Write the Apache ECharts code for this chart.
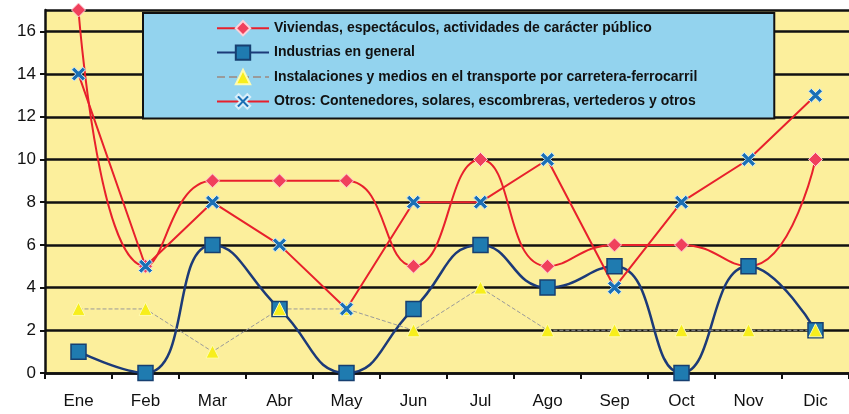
<!DOCTYPE html>
<html lang="es">
<head>
    <meta charset="UTF-8">
    <title>Incendios por mes</title>
    <script type="text/javascript" src="https://cdn.jsdelivr.net/npm/echarts@6/dist/echarts.min.js"></script>
    <style>
        html, body { margin: 0; padding: 0; background: #fff; }
    </style>
</head>
<body>
<div id="main" style="width: 849px;height:414px;"></div>
<script type="text/javascript">
    // datos
    var meses = ['Ene', 'Feb', 'Mar', 'Abr', 'May', 'Jun', 'Jul', 'Ago', 'Sep', 'Oct', 'Nov', 'Dic'];
    var viviendas = [17, 5, 9, 9, 9, 5, 10, 5, 6, 6, 5, 10];
    var industrias = [1, 0, 6, 3, 0, 3, 6, 4, 5, 0, 5, 2];
    var instalaciones = [3, 3, 1, 3, 3, 2, 4, 2, 2, 2, 2, 2];
    var otros = [14, 5, 8, 6, 3, 8, 8, 10, 4, 8, 10, 13];
    var nombres = [
        'Viviendas, espectáculos, actividades de carácter público',
        'Industrias en general',
        'Instalaciones y medios en el transporte por carretera-ferrocarril',
        'Otros: Contenedores, solares, escombreras, vertederos y otros'
    ];

    var fuente = 'Liberation Sans, Arial, sans-serif';
    var cruz = 'path://M2,0 L5,3 L8,0 L10,2 L7,5 L10,8 L8,10 L5,7 L2,10 L0,8 L3,5 L0,2 Z';

    var myChart = echarts.init(document.getElementById('main'));
    myChart.setOption({
        animation: false,
        backgroundColor: '#ffffff',
        grid: {
            left: 45,
            right: 0,
            top: 10,
            bottom: 41,
            show: true,
            backgroundColor: '#fcef9c',
            borderWidth: 0
        },
        legend: {
            orient: 'vertical',
            left: 143,
            top: 13,
            padding: [7, 77, 9, 73],
            itemGap: 8,
            itemWidth: 52,
            itemHeight: 18,
            backgroundColor: '#93d3ee',
            borderColor: '#111111',
            borderWidth: 2,
            textStyle: {
                fontFamily: fuente,
                fontSize: 14,
                fontWeight: 'bold',
                color: '#111111'
            },
            data: nombres
        },
        xAxis: {
            type: 'category',
            data: meses,
            boundaryGap: true,
            axisLine: { lineStyle: { color: '#111111', width: 2.5 } },
            axisTick: { show: true, length: 6, lineStyle: { color: '#111111', width: 2 } },
            axisLabel: {
                fontFamily: fuente,
                fontSize: 17,
                color: '#111111',
                margin: 20
            }
        },
        yAxis: {
            type: 'value',
            min: 0,
            max: 17,
            interval: 2,
            axisLine: { show: true, lineStyle: { color: '#111111', width: 2.5 } },
            axisTick: { show: true, length: 5, lineStyle: { color: '#111111', width: 2 } },
            axisLabel: {
                fontFamily: fuente,
                fontSize: 17,
                color: '#111111',
                margin: 9,
                showMaxLabel: false
            },
            splitLine: { lineStyle: { color: '#111111', width: 2.5 } }
        },
        series: [
            {
                name: nombres[0],
                type: 'line',
                data: viviendas,
                smooth: 0.5,
                symbol: 'diamond',
                symbolSize: 14,
                lineStyle: { color: '#e8202c', width: 2 },
                itemStyle: { color: '#f0405c', borderColor: '#ffd0d8', borderWidth: 1 }
            },
            {
                name: nombres[1],
                type: 'line',
                data: industrias,
                smooth: 0.5,
                symbol: 'rect',
                symbolSize: 15,
                lineStyle: { color: '#1c3a78', width: 2.5 },
                itemStyle: { color: '#1f7bb0', borderColor: '#163f70', borderWidth: 1.5 }
            },
            {
                name: nombres[2],
                type: 'line',
                data: instalaciones,
                symbol: 'triangle',
                symbolSize: 13,
                lineStyle: { color: '#9a9a9a', width: 1, type: 'dashed' },
                itemStyle: { color: '#f7ee1c', borderColor: '#fffbb0', borderWidth: 1 }
            },
            {
                name: nombres[3],
                type: 'line',
                data: otros,
                symbol: cruz,
                symbolSize: 14,
                lineStyle: { color: '#e8202c', width: 2 },
                itemStyle: { color: '#1a6fb5', borderColor: '#d8eefa', borderWidth: 1 }
            }
        ]
    });
</script>
</body>
</html>
